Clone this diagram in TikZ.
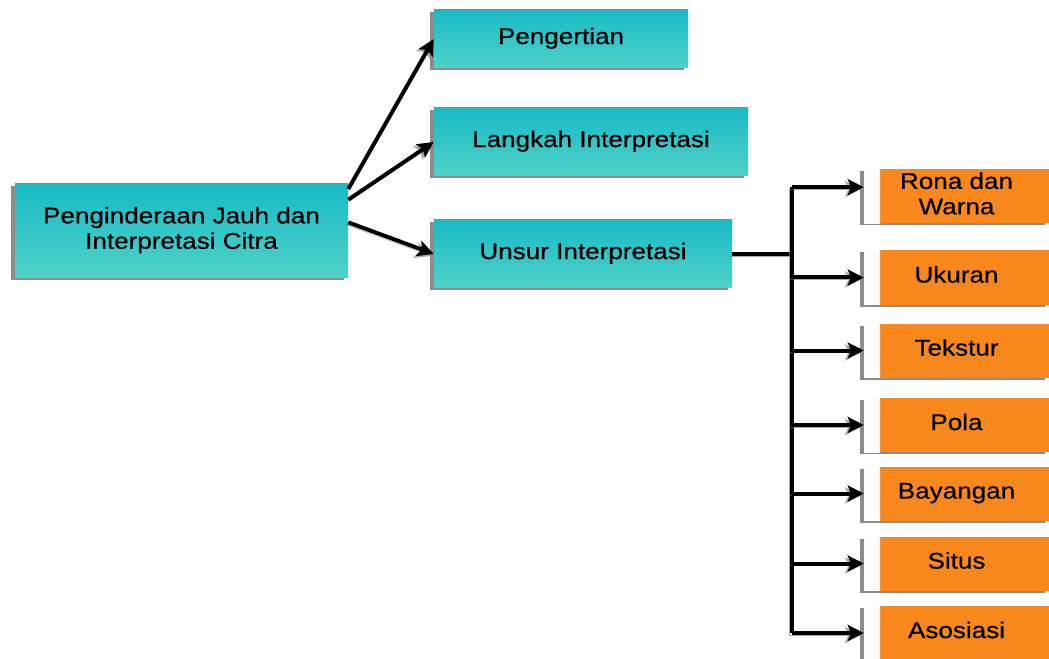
\documentclass[tikz,border=0pt]{standalone}
\usepackage{fontspec}
\setmainfont{Liberation Sans}
\newfontfamily\teksbox[FakeBold=0.6]{Liberation Sans}
\usetikzlibrary{arrows.meta,shadows}
\definecolor{tealtop}{RGB}{24,186,198}
\definecolor{tealbot}{RGB}{80,210,200}
\definecolor{oranye}{RGB}{248,136,28}
\newcommand{\lebar}[1]{\scalebox{1.15}[1]{\begin{tabular}{@{}c@{}}#1\end{tabular}}}
\tikzset{
  kotak/.style={rectangle, top color=tealtop, bottom color=tealbot, inner sep=0pt,
    drop shadow={shadow xshift=-3pt, shadow yshift=-1.5pt, opacity=.6, fill=black!75},
    font=\teksbox\fontsize{17}{19}\selectfont},
  unsurbox/.style={rectangle, fill=oranye, inner sep=0pt,
    minimum width=138.75pt, minimum height=40.5pt,
    drop shadow={shadow xshift=-3pt, shadow yshift=-1.5pt, opacity=.6, fill=black!75},
    path picture={\fill[left color=white, right color=oranye!45]
      (path picture bounding box.north west) rectangle ([xshift=12pt]path picture bounding box.south west);},
    font=\teksbox\fontsize{17}{19}\selectfont},
  bayang/.style={preaction={draw, black!55, opacity=.6, transform canvas={xshift=-2pt,yshift=-1.5pt}}},
  panah/.style={line width=3pt, black, bayang, -{Stealth[length=12pt,width=12pt,inset=2.5pt]}},
  garis/.style={line width=3pt, black, bayang}
}
\begin{document}
\begin{tikzpicture}[x=0.75pt,y=-0.75pt]
  \useasboundingbox (0,0) rectangle (1049,659);
  %akar
  \node[kotak, minimum width=249.75pt, minimum height=70.5pt] (akar) at (181.5,231)
    {\lebar{Penginderaan Jauh dan\\Interpretasi Citra}};
  %cabang
  \node[kotak, minimum width=190.5pt, minimum height=43.5pt] (pengertian) at (561,39) {\lebar{Pengertian}};
  \node[kotak, minimum width=235.5pt, minimum height=51pt] (langkah) at (591,142) {\lebar{Langkah Interpretasi}};
  \node[kotak, minimum width=223.5pt, minimum height=51pt] (unsur) at (583,254) {\lebar{Unsur Interpretasi}};
  %unsur-unsur
  \node[unsurbox] (rona) at (956.5,196.5) {\lebar{Rona dan\\Warna}};
  \node[unsurbox] (ukuran) at (956.5,277.5) {\lebar{Ukuran}};
  \node[unsurbox] (tekstur) at (956.5,350.5) {\lebar{Tekstur}};
  \node[unsurbox] (pola) at (956.5,425) {\lebar{Pola}};
  \node[unsurbox] (bayangan) at (956.5,493.5) {\lebar{Bayangan}};
  \node[unsurbox] (situs) at (956.5,563.5) {\lebar{Situs}};
  \node[unsurbox] (asosiasi) at (956.5,633) {\lebar{Asosiasi}};
  %panah akar
  \draw[panah] ([yshift=-4pt]akar.north east) -- (pengertian.west);
  \draw[panah] ([yshift=-12pt]akar.north east) -- (langkah.west);
  \draw[panah] ([yshift=-29pt]akar.north east) -- (unsur.west);
  %batang
  \coordinate (batang) at (792,0);
  \draw[garis] (unsur.east) -- (batang |- unsur.east);
  \draw[garis] ([yshift=7pt]batang |- rona.west) -- (batang |- asosiasi.west);
  \draw[panah] ([yshift=7pt]batang |- rona.west) -- ([yshift=7pt]rona.west);
  \foreach \n in {ukuran,tekstur,pola,bayangan,situs,asosiasi}
    \draw[panah] (batang |- \n.west) -- (\n.west);
\end{tikzpicture}
\end{document}
